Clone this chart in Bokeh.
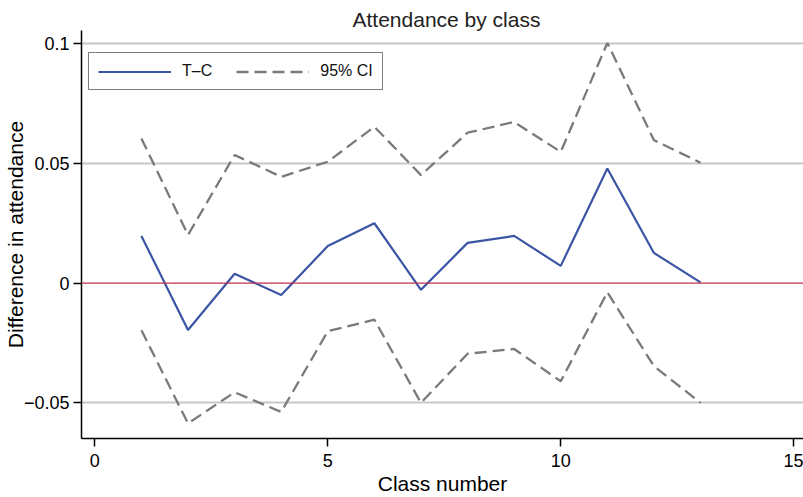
from bokeh.plotting import figure
from bokeh.models import Range1d, FixedTicker, Legend, LegendItem, Span
from bokeh.embed import file_html
from bokeh.resources import INLINE

classes = [1, 2, 3, 4, 5, 6, 7, 8, 9, 10, 11, 12, 13]
diff_tc = [0.0197, -0.0196, 0.0039, -0.005, 0.0155, 0.025, -0.0028, 0.0168, 0.0197, 0.0072, 0.0479, 0.0126, 0.0003]
ci_upper = [0.0604, 0.0201, 0.0535, 0.0444, 0.0507, 0.0653, 0.0451, 0.0628, 0.0673, 0.0548, 0.1003, 0.0597, 0.0503]
ci_lower = [-0.0197, -0.0586, -0.0456, -0.0538, -0.0201, -0.0153, -0.0500, -0.0295, -0.0275, -0.0410, -0.0038, -0.0347, -0.0500]

x_ticks = [0, 5, 10, 15]
x_tick_labels = ["0", "5", "10", "15"]
y_ticks = [-0.05, 0, 0.05, 0.1]
y_tick_labels = ["\u22120.05", "0", "0.05", "0.1"]

FONT = "Liberation Sans"

p = figure(width=803, height=497, output_backend="svg", toolbar_location=None,
           x_range=Range1d(-0.286, 15.21), y_range=Range1d(-0.0649, 0.1055),
           min_border_left=81, min_border_right=0, min_border_top=30, min_border_bottom=58,
           title="Attendance by class")
p.outline_line_color = None
p.background_fill_color = "white"
p.border_fill_color = "white"

p.title.align = "left"
p.title.offset = 271
p.title.text_font = FONT
p.title.text_font_size = "21px"
p.title.text_font_style = "normal"
p.title.text_color = "#222222"
p.title.standoff = 0

# axes
p.xaxis.ticker = FixedTicker(ticks=x_ticks)
p.xaxis.major_label_overrides = {t: l for t, l in zip(x_ticks, x_tick_labels)}
p.yaxis.ticker = FixedTicker(ticks=y_ticks)
p.yaxis.major_label_overrides = {t: l for t, l in zip(y_ticks, y_tick_labels)}
p.xaxis.axis_label = "Class number"
p.yaxis.axis_label = "Difference in attendance"
for ax in (p.xaxis, p.yaxis):
    ax.axis_label_text_font = FONT
    ax.axis_label_text_font_size = "21px"
    ax.axis_label_text_font_style = "normal"
    ax.axis_label_text_color = "black"
    ax.major_label_text_font = FONT
    ax.major_label_text_font_size = "18px"
    ax.major_label_text_color = "black"
    ax.axis_line_color = "black"
    ax.axis_line_width = 1.5
    ax.major_tick_line_color = "black"
    ax.major_tick_line_width = 1.5
    ax.major_tick_out = 8
    ax.major_tick_in = 0
    ax.minor_tick_line_color = None
p.xaxis.major_label_standoff = 7
p.xaxis.axis_label_standoff = 2
p.yaxis.major_label_standoff = 4
p.yaxis.axis_label_standoff = -6
p.yaxis.major_label_orientation = "horizontal"

p.xgrid.grid_line_color = None
p.ygrid.ticker = FixedTicker(ticks=[-0.05, 0.05, 0.1])
p.ygrid.grid_line_color = "#c8c8c8"
p.ygrid.grid_line_width = 2

zero = Span(location=0, dimension="width", line_color="#c0304c", line_width=1.2)
p.add_layout(zero)

r_tc = p.line(classes, diff_tc, line_color="#3a55a4", line_width=2.2)
r_up = p.line(classes, ci_upper, line_color="#7a7a7a", line_width=2.3, line_dash="12 6")
r_lo = p.line(classes, ci_lower, line_color="#7a7a7a", line_width=2.3, line_dash="12 6")

legend = Legend(items=[LegendItem(label="T\u2013C", renderers=[r_tc]),
                       LegendItem(label="95% CI", renderers=[r_up])],
                orientation="horizontal", location=(7, 348),
                glyph_width=73, glyph_height=15, label_height=15,
                label_standoff=11, spacing=24, padding=9, margin=0,
                border_line_color="black", border_line_width=1.5,
                label_text_font=FONT, label_text_font_size="16px",
                label_text_color="#111111",
                background_fill_alpha=1)
p.add_layout(legend, "center")

open("out.html", "w").write(file_html(p, INLINE))
